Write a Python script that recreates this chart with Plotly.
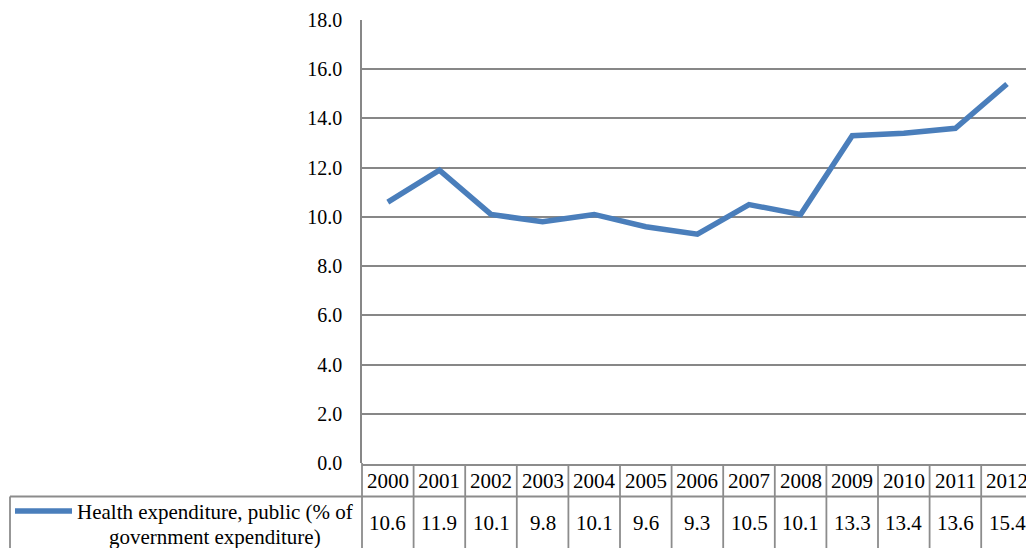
import plotly.graph_objects as go

# Series data
years = ["2000", "2001", "2002", "2003", "2004", "2005", "2006",
         "2007", "2008", "2009", "2010", "2011", "2012"]
health_exp = [10.6, 11.9, 10.1, 9.8, 10.1, 9.6, 9.3,
              10.5, 10.1, 13.3, 13.4, 13.6, 15.4]
series_name_lines = ["Health expenditure, public (% of",
                     "government expenditure)"]
y_ticks = [0, 2, 4, 6, 8, 10, 12, 14, 16, 18]

W, H = 1026, 548
FONT = "Liberation Serif, Times New Roman, serif"
FS_AXIS = 20
FS_TABLE = 21
BLUE = "#4a7ebb"
GRID = "#878787"
TABLE = "#8c8c8c"

# Plot area geometry (pixels)
plot_left, plot_right = 362, 1026
plot_top, plot_bottom = 20, 463
col_w = 51.6
x_range = [-0.5, -0.5 + (plot_right - plot_left) / col_w]


def px(p):
    return p / W


def py(p):
    return 1 - p / H


def xdata_to_paper(v):
    frac = (v - x_range[0]) / (x_range[1] - x_range[0])
    return px(plot_left) + frac * (px(plot_right) - px(plot_left))


fig = go.Figure()
fig.add_trace(go.Scatter(
    x=list(range(len(years))), y=health_exp, mode="lines",
    line=dict(color=BLUE, width=5.5), hoverinfo="skip", showlegend=False,
))

shapes = []


def hline(y, x0, x1, color=TABLE, width=1.8):
    shapes.append(dict(type="line", xref="paper", yref="paper",
                       x0=px(x0), x1=px(x1), y0=py(y), y1=py(y),
                       line=dict(color=color, width=width)))


def vline_paper(xp, y0, y1, color=TABLE, width=1.8):
    shapes.append(dict(type="line", xref="paper", yref="paper",
                       x0=xp, x1=xp, y0=py(y0), y1=py(y1),
                       line=dict(color=color, width=width)))


# Data table grid
row1_top, row1_bot, row2_bot = 465, 496.5, 548
hline(row1_top, plot_left, plot_right)
hline(row1_bot, 10, plot_right)
vline_paper(px(plot_left), plot_bottom, row2_bot)
vline_paper(px(10), row1_bot, row2_bot)
for i in range(len(years)):
    xp = xdata_to_paper(i + 0.5)
    if xp <= 1:
        vline_paper(xp, row1_top, row2_bot)

# Legend key in the table
shapes.append(dict(type="line", xref="paper", yref="paper",
                   x0=px(15), x1=px(72), y0=py(511), y1=py(511),
                   line=dict(color=BLUE, width=5.5)))

table_font = dict(family=FONT, size=FS_TABLE, color="black")
annotations = []
for i, (yr, v) in enumerate(zip(years, health_exp)):
    annotations.append(dict(x=i, xref="x", y=py((row1_top + row1_bot) / 2),
                            yref="paper", text=yr, showarrow=False,
                            xanchor="center", yanchor="middle",
                            font=table_font))
    annotations.append(dict(x=i, xref="x", y=py(523), yref="paper",
                            text=f"{v:.1f}", showarrow=False,
                            xanchor="center", yanchor="middle",
                            font=table_font))

for line_text, y_line in zip(series_name_lines, [511.5, 537]):
    annotations.append(dict(x=px(215), xref="paper", y=py(y_line),
                            yref="paper", text=line_text, showarrow=False,
                            xanchor="center", yanchor="middle",
                            font=table_font))

fig.update_layout(
    width=W, height=H,
    margin=dict(l=0, r=0, t=0, b=0, pad=0, autoexpand=False),
    paper_bgcolor="white", plot_bgcolor="white",
    shapes=shapes, annotations=annotations,
    xaxis=dict(domain=[px(plot_left), px(plot_right)], range=x_range,
               showgrid=False, zeroline=False, showticklabels=False,
               showline=False, fixedrange=True, automargin=False),
    yaxis=dict(domain=[py(plot_bottom), py(plot_top)], range=[0, 18],
               tickvals=y_ticks, tickformat=".1f",
               showgrid=True, gridcolor=GRID, gridwidth=1.5,
               zeroline=False, showline=True, linecolor=GRID, linewidth=1.5,
               ticks="", ticklabelstandoff=14, automargin=False,
               tickfont=dict(family=FONT, size=FS_AXIS, color="black"),
               fixedrange=True),
)

fig.write_html("out.html")
